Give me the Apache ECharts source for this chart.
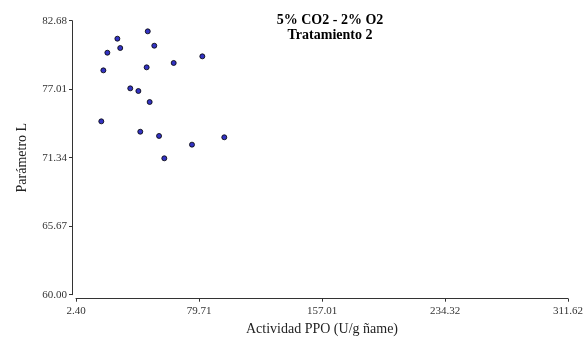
<!DOCTYPE html>
<html>
<head>
<meta charset="utf-8">
<script src="https://cdn.jsdelivr.net/npm/echarts@6/dist/echarts.min.js"></script>
<style>
  html, body { margin: 0; padding: 0; background: #fff; }
  #chart { width: 587px; height: 339px; }
</style>
</head>
<body>
<div id="chart"></div>
<script>
// PPO activity (U/g) vs L value, treatment 2
var ppoActivity = [47.5, 28.4, 51.6, 30.2, 22.1, 81.8, 63.8, 46.8, 19.6,
                   36.5, 41.6, 48.7, 18.3, 42.8, 54.6, 95.6, 75.3, 57.9];
var paramL = [81.80, 81.19, 80.61, 80.42, 80.03, 79.73, 79.18, 78.82, 78.57,
              77.08, 76.86, 75.95, 74.35, 73.49, 73.14, 73.03, 72.42, 71.29];
var xTicks = [2.40, 79.71, 157.01, 234.32, 311.62];
var yTicks = [60.00, 65.67, 71.34, 77.01, 82.68];

var points = ppoActivity.map(function (x, i) { return [x, paramL[i]]; });

var font = 'Liberation Serif, Times New Roman, serif';
var chart = echarts.init(document.getElementById('chart'));

var option = {
    animation: false,
    backgroundColor: '#fff',
    title: {
        text: '5% CO2 - 2% O2\nTratamiento 2',
        left: 325,
        top: 8,
        textAlign: 'center',
        textStyle: {
            fontFamily: font,
            fontSize: 14,
            fontWeight: 'bold',
            color: '#000',
            lineHeight: 15
        }
    },
    grid: { left: 76, right: 19, top: 20.7, bottom: 44.3, outerBoundsMode: 'none', containLabel: false },
    xAxis: {
        type: 'value',
        min: xTicks[0],
        max: xTicks[xTicks.length - 1],
        offset: 4,
        name: 'Actividad PPO (U/g ñame)',
        nameLocation: 'middle',
        nameGap: 24,
        nameTextStyle: { fontFamily: font, fontSize: 14, color: '#222' },
        splitLine: { show: false },
        axisLine: { lineStyle: { color: '#333', width: 1 } },
        axisTick: { length: 3, lineStyle: { color: '#333' }, customValues: xTicks },
        axisLabel: {
            customValues: xTicks,
            margin: 7,
            fontFamily: font,
            fontSize: 11,
            color: '#333',
            formatter: function (v) { return v.toFixed(2); }
        }
    },
    yAxis: {
        type: 'value',
        min: yTicks[0],
        max: yTicks[yTicks.length - 1],
        offset: 4,
        name: 'Parámetro L',
        nameLocation: 'middle',
        nameGap: 43,
        nameTextStyle: { fontFamily: font, fontSize: 14, color: '#222' },
        splitLine: { show: false },
        axisLine: { show: true, lineStyle: { color: '#333', width: 1 } },
        axisTick: { show: true, length: 3, lineStyle: { color: '#333' }, customValues: yTicks },
        axisLabel: {
            customValues: yTicks,
            margin: 5,
            fontFamily: font,
            fontSize: 11,
            color: '#333',
            formatter: function (v) { return v.toFixed(2); }
        }
    },
    series: [{
        type: 'scatter',
        data: points,
        symbolSize: 5,
        itemStyle: { color: '#0000b4', borderColor: '#000', borderWidth: 1 }
    }]
};
chart.setOption(option);
</script>
</body>
</html>
